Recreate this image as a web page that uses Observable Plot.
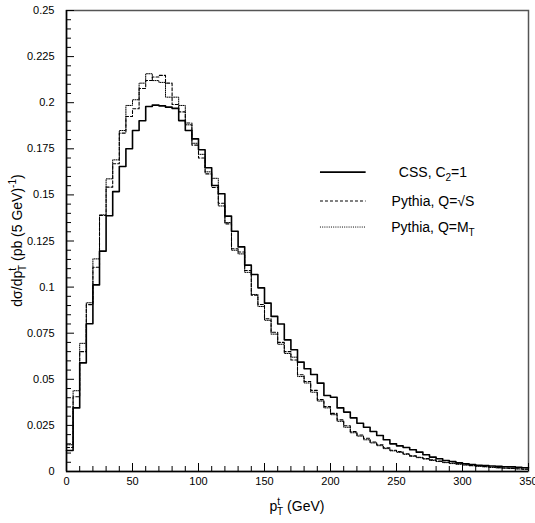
<!DOCTYPE html>
<html><head><meta charset="utf-8">
<script src="https://cdn.jsdelivr.net/npm/d3@7"></script>
<script src="https://cdn.jsdelivr.net/npm/@observablehq/plot@0.6"></script>
<style>body{margin:0;background:#fff}svg{display:block}</style>
</head><body><div id="chart"></div>
<script>
const binWidth = 5;
const xMax = 350;
const cssC2 = [0.0114,0.0345,0.0589,0.0801,0.1012,0.1195,0.1387,0.1518,0.1654,0.1750,
0.1849,0.1902,0.1979,0.1987,0.1983,0.1976,0.1969,0.1903,0.1849,0.1804,
0.1745,0.1647,0.1551,0.1506,0.1385,0.1303,0.1218,0.1119,0.1068,0.0996,
0.0913,0.0841,0.0800,0.0714,0.0660,0.0593,0.0557,0.0526,0.0479,0.0412,
0.0403,0.0345,0.0322,0.0291,0.0262,0.0240,0.0217,0.0195,0.0172,0.0150,
0.0139,0.0130,0.0118,0.0105,0.0091,0.0078,0.0069,0.0060,0.0054,0.0047,
0.0042,0.0038,0.0034,0.0032,0.0030,0.0028,0.0026,0.0025,0.0023,0.0020];
const pythiaSqrtS = [0.0130,0.0405,0.0650,0.0905,0.1108,0.1388,0.1542,0.1669,0.1835,0.1925,
0.1967,0.2077,0.2120,0.2139,0.2148,0.2106,0.1990,0.1950,0.1890,0.1770,
0.1700,0.1614,0.1540,0.1455,0.1343,0.1208,0.1190,0.1090,0.0956,0.0906,
0.0828,0.0755,0.0700,0.0650,0.0605,0.0525,0.0488,0.0440,0.0390,0.0352,
0.0315,0.0280,0.0248,0.0216,0.0198,0.0180,0.0160,0.0145,0.0128,0.0115,
0.0108,0.0096,0.0085,0.0077,0.0070,0.0063,0.0056,0.0050,0.0046,0.0042,
0.0037,0.0033,0.0030,0.0027,0.0024,0.0021,0.0019,0.0017,0.0015,0.0013];
const pythiaMT = [0.0145,0.0438,0.0695,0.0915,0.1153,0.1392,0.1587,0.1690,0.1849,0.1985,
0.2016,0.2106,0.2157,0.2120,0.2110,0.2030,0.2030,0.1985,0.1880,0.1780,
0.1720,0.1625,0.1590,0.1440,0.1350,0.1200,0.1180,0.1080,0.0960,0.0895,
0.0820,0.0745,0.0690,0.0640,0.0620,0.0515,0.0480,0.0430,0.0382,0.0345,
0.0308,0.0272,0.0240,0.0210,0.0192,0.0172,0.0155,0.0140,0.0124,0.0112,
0.0104,0.0093,0.0083,0.0075,0.0068,0.0060,0.0054,0.0048,0.0043,0.0039,
0.0035,0.0031,0.0028,0.0025,0.0022,0.0020,0.0018,0.0016,0.0014,0.0012];
const seriesNames = ["CSS, C2=1", "Pythia, Q=√S", "Pythia, Q=MT"];
const xTicksMajor = [0,50,100,150,200,250,300,350];
const xTicksMinor = [10,20,30,40,60,70,80,90,110,120,130,140,160,170,180,190,210,220,230,240,260,270,280,290,310,320,330,340];
const yTicksMajor = [0,0.025,0.05,0.075,0.1,0.125,0.15,0.175,0.2,0.225,0.25];
const yTickLabels = ["0","0.025","0.05","0.075","0.1","0.125","0.15","0.175","0.2","0.225","0.25"];
const yTicksMinor = d3.range(0, 51).map(i => i*0.005).filter(v => !yTicksMajor.some(m => Math.abs(m-v) < 1e-9));

function steps(values, name) {
  const rows = values.map((v, i) => ({series: name, x: i*binWidth, y: v}));
  rows.push({series: name, x: xMax, y: values[values.length-1]});
  return rows;
}
const styles = [
  {w: 1.6, dash: null},
  {w: 1.1, dash: "3,2"},
  {w: 1.0, dash: "1,1.2"}
];
const allSeries = [cssC2, pythiaSqrtS, pythiaMT];

const W = 535, H = 523, mL = 66, mR = 7, mT = 10, mB = 52;
const fw = W - mL - mR, fh = H - mT - mB;

const plot = Plot.plot({
  width: W, height: H,
  marginLeft: mL, marginRight: mR, marginTop: mT, marginBottom: mB,
  style: {fontFamily: "'Liberation Sans', Arial, sans-serif", fontSize: "11px", background: "#fff", color: "#000"},
  x: {domain: [0, xMax]},
  y: {domain: [0, 0.25]},
  marks: [
    Plot.frame({stroke: "#555", strokeWidth: 1.5}),
    Plot.ruleX([0], {stroke: "#000", strokeWidth: 1.5}),
    Plot.ruleY([0], {stroke: "#000", strokeWidth: 1.5}),
    Plot.tickY(yTicksMajor, {y: d => d, insetRight: fw - 8, stroke: "#000", strokeWidth: 1}),
    Plot.tickY(yTicksMinor, {y: d => d, insetRight: fw - 5, stroke: "#000", strokeWidth: 1}),
    Plot.tickX(xTicksMajor, {x: d => d, insetTop: fh - 8, stroke: "#000", strokeWidth: 1}),
    Plot.tickX(xTicksMinor, {x: d => d, insetTop: fh - 5, stroke: "#000", strokeWidth: 1}),
    ...allSeries.map((vals, k) => Plot.line(steps(vals, seriesNames[k]), {
      x: "x", y: "y", curve: "step-after", stroke: "#000",
      strokeWidth: styles[k].w, strokeDasharray: styles[k].dash
    })),
    Plot.axisY({ticks: yTicksMajor, tickSize: 0, tickPadding: 12, label: null,
      tickFormat: d => yTickLabels[yTicksMajor.indexOf(d)]}),
    Plot.axisX({ticks: xTicksMajor, tickSize: 0, tickPadding: 6, label: null})
  ]
});
document.getElementById("chart").appendChild(plot);

const svg = d3.select(plot);
const xs = plot.scale("x"), ys = plot.scale("y");
const font = "'Liberation Sans', Arial, sans-serif";

// y title
const yt = svg.append("text")
  .attr("transform", `translate(22,${mT + fh/2}) rotate(-90)`)
  .attr("text-anchor", "middle").attr("font-family", font).attr("font-size", 14).attr("fill", "#000");
yt.append("tspan").text("dσ/dp");
yt.append("tspan").attr("font-size", 10).attr("dy", -6).text("t");
yt.append("tspan").attr("font-size", 10).attr("dx", -3).attr("dy", 10).text("T");
yt.append("tspan").attr("dy", -4).text(" (pb (5 GeV)");
yt.append("tspan").attr("font-size", 10).attr("dy", -6).text("-1");
yt.append("tspan").attr("dy", 6).text(")");

// x title
const xt = svg.append("text")
  .attr("x", mL + fw/2).attr("y", 511)
  .attr("text-anchor", "middle").attr("font-family", font).attr("font-size", 14).attr("fill", "#000");
xt.append("tspan").text("p");
xt.append("tspan").attr("font-size", 10).attr("dy", -6).text("t");
xt.append("tspan").attr("font-size", 10).attr("dx", -3).attr("dy", 10).text("T");
xt.append("tspan").attr("dy", -4).text(" (GeV)");

// legend
const legendY = [0.1621, 0.1464, 0.1323];
const legendX1 = 192.4, legendX2 = 227, legendText = 278;
const labelParts = [
  [["CSS, C", 0], ["2", 1], ["=1", -1]],
  [["Pythia, Q=√S", 0]],
  [["Pythia, Q=M", 0], ["T", 1]]
];
legendY.forEach((ly, k) => {
  svg.append("line")
    .attr("x1", xs.apply(legendX1)).attr("x2", xs.apply(legendX2))
    .attr("y1", ys.apply(ly)).attr("y2", ys.apply(ly))
    .attr("stroke", "#000").attr("stroke-width", styles[k].w)
    .attr("stroke-dasharray", styles[k].dash);
  const t = svg.append("text")
    .attr("x", xs.apply(legendText)).attr("y", ys.apply(ly) + 5)
    .attr("text-anchor", "middle").attr("font-family", font).attr("font-size", 14).attr("fill", "#000");
  labelParts[k].forEach(([s, sub]) => {
    const sp = t.append("tspan").text(s);
    if (sub === 1) sp.attr("font-size", 10).attr("dy", 4);
    if (sub === -1) sp.attr("dy", -4);
  });
});
</script>
</body></html>
